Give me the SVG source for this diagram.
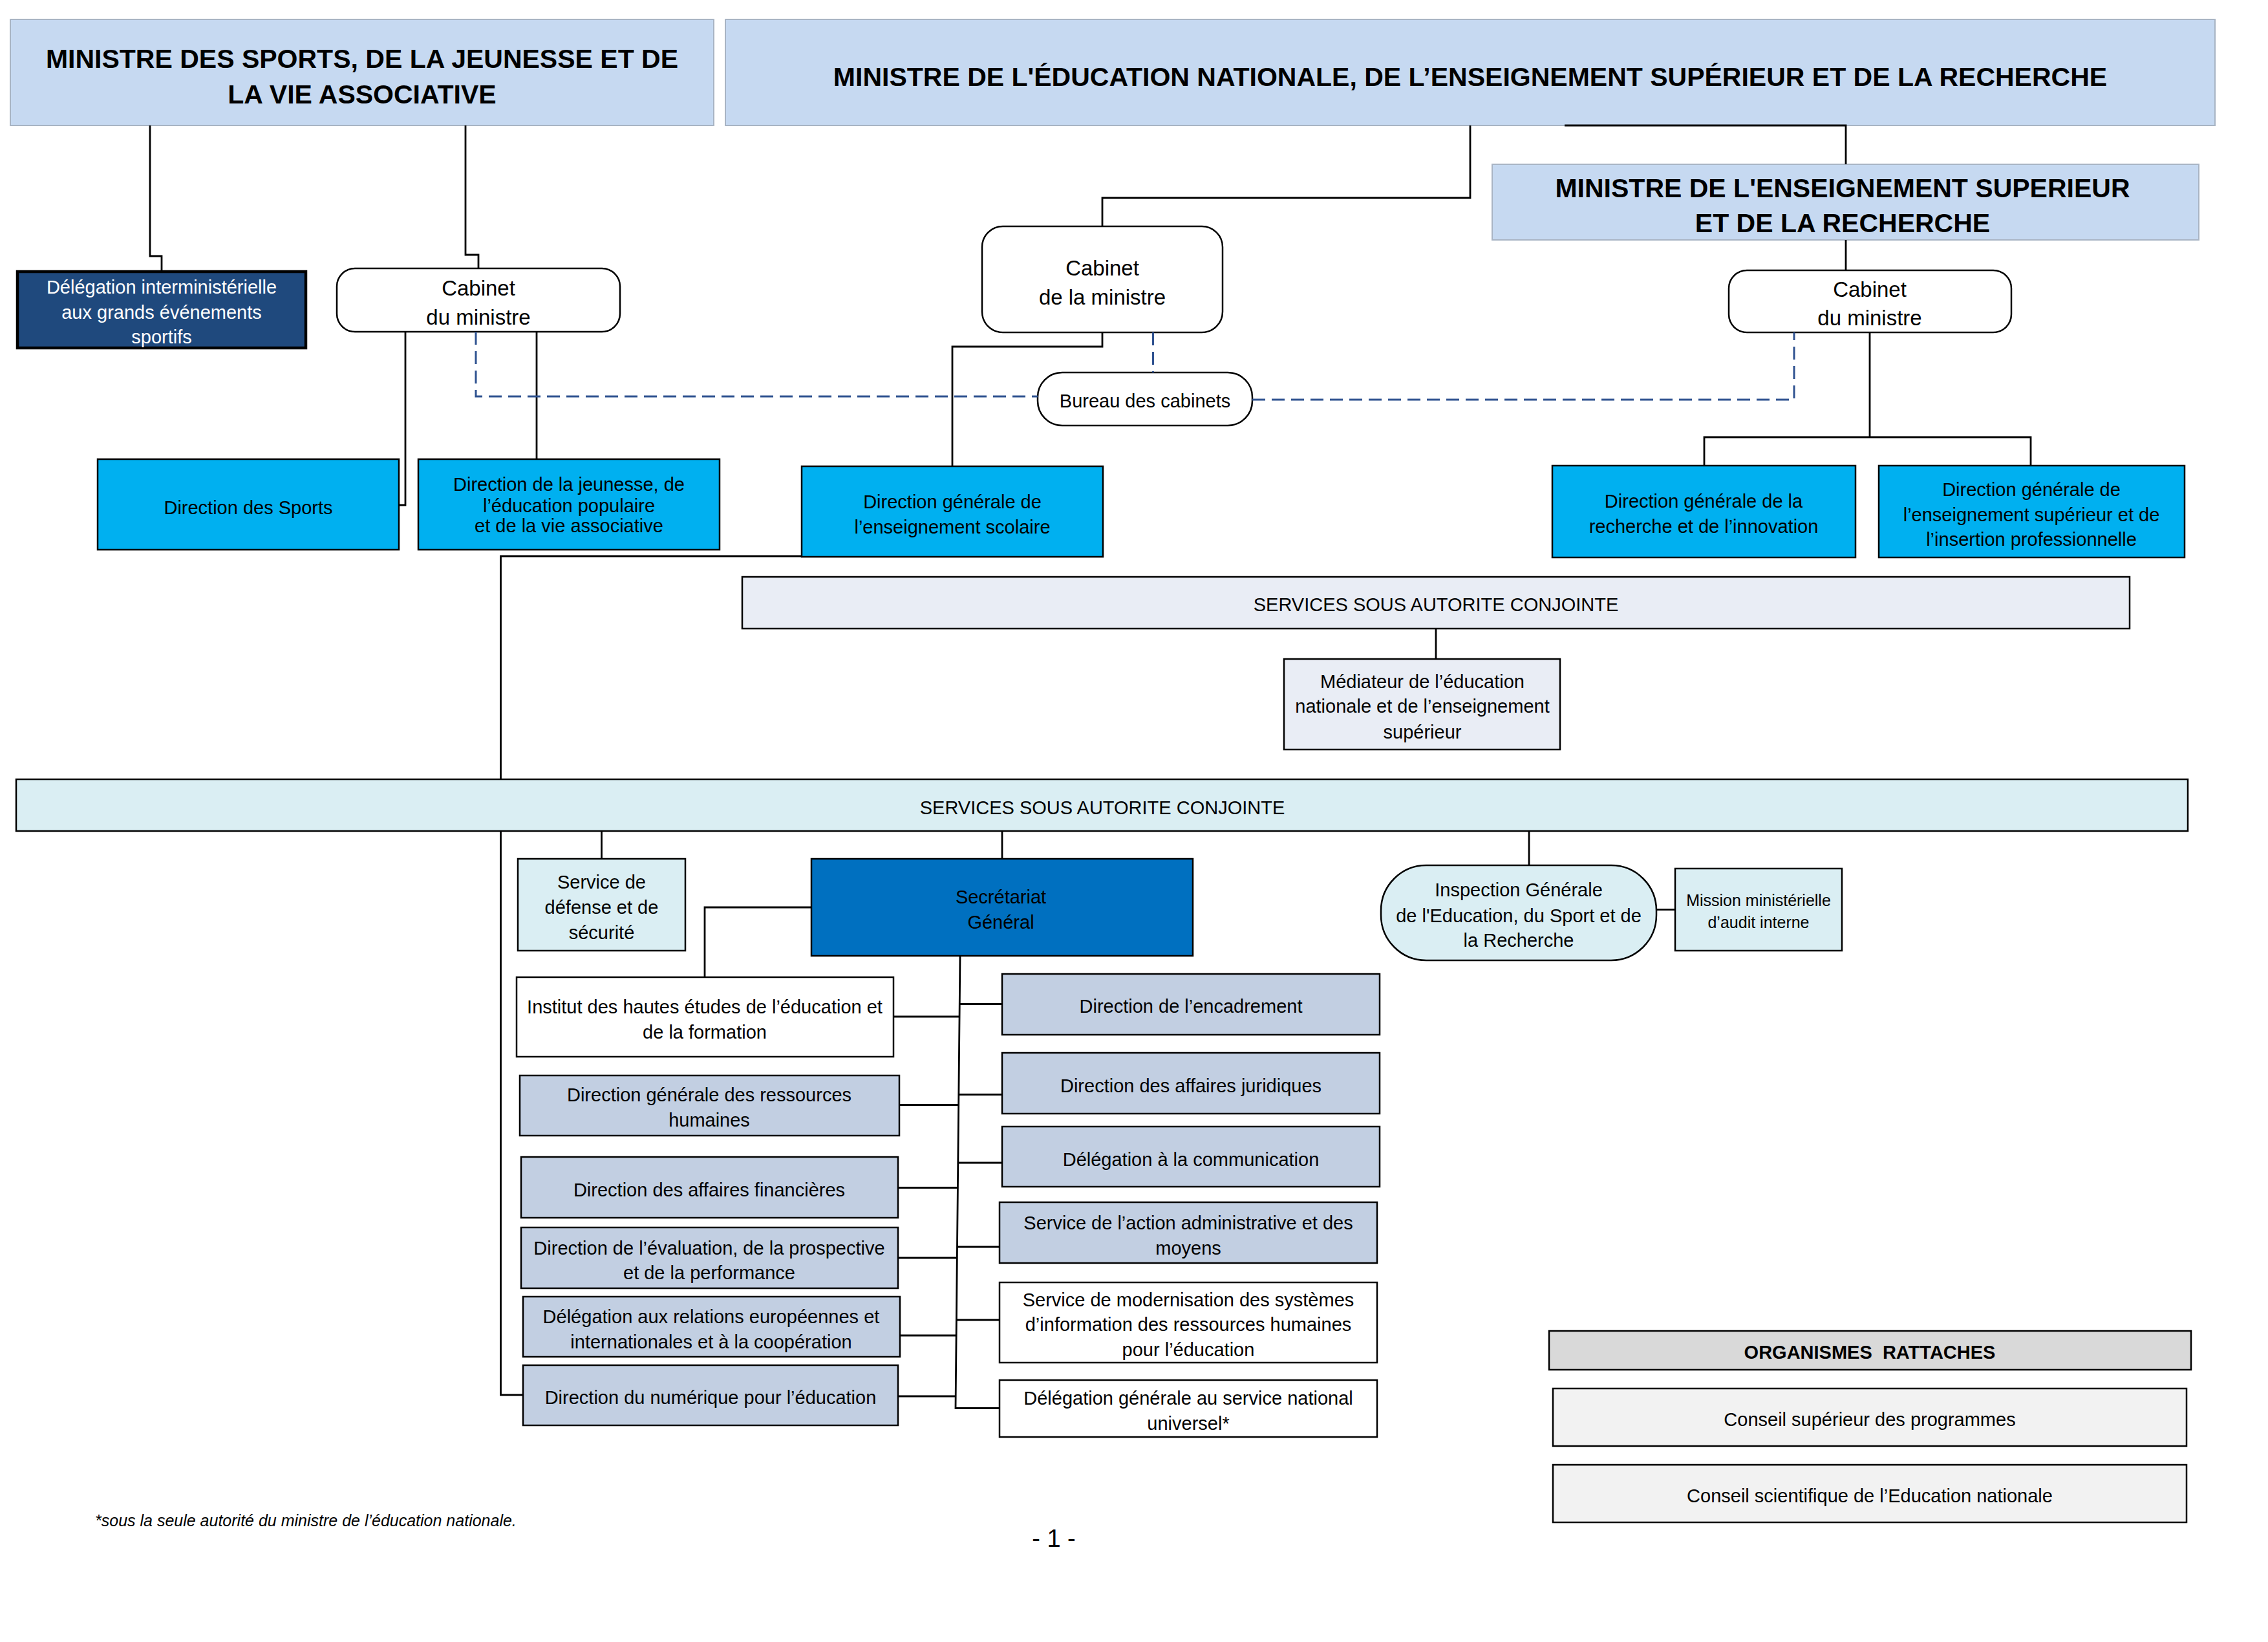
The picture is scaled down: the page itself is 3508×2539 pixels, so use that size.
<svg xmlns="http://www.w3.org/2000/svg" width="3508" height="2539" viewBox="0 0 3508 2539">
<style>
text{font-family:"Liberation Sans",Arial,sans-serif;font-size:29px;fill:#000;text-anchor:middle}
.title{font-size:41px;font-weight:bold}
.cab{font-size:33px}
.w{fill:#fff}
.b{stroke:#000;stroke-width:2.5}
.tb{fill:#C6D9F1;stroke:#A8B4C4;stroke-width:2}
.dir{fill:#00B0F0}
.gb{fill:#C2CFE2}
.lb{fill:#DAEEF3}
.lv{fill:#E9EDF5}
.wh{fill:#fff}
.ln{fill:none;stroke:#000;stroke-width:2.8}
.ds{fill:none;stroke:#2F5290;stroke-width:3;stroke-dasharray:20 10}
</style>
<rect width="3508" height="2539" fill="#fff"/>
<g id="t1"><rect class="tb" x="16" y="30" width="1088" height="164"/>
<text class="title" x="560" y="105">MINISTRE DES SPORTS, DE LA JEUNESSE ET DE</text>
<text class="title" x="560" y="160">LA VIE ASSOCIATIVE</text></g>
<g id="t2"><rect class="tb" x="1122" y="30" width="2304" height="164"/>
<text class="title" x="2274" y="133">MINISTRE DE L'ÉDUCATION NATIONALE, DE L’ENSEIGNEMENT SUPÉRIEUR ET DE LA RECHERCHE</text></g>
<g id="t3"><rect class="tb" x="2308" y="254" width="1093" height="117"/>
<text class="title" x="2850" y="305">MINISTRE DE L'ENSEIGNEMENT SUPERIEUR</text>
<text class="title" x="2850" y="359">ET DE LA RECHERCHE</text></g>
<g id="deleg"><rect x="27" y="420" width="446" height="118" fill="#1F497D" stroke="#000" stroke-width="4.5"/>
<text class="w" x="250" y="454">Délégation interministérielle</text>
<text class="w" x="250" y="493">aux grands événements</text>
<text class="w" x="250" y="531">sportifs</text></g>
<g id="cab1"><rect class="wh b" x="521" y="415" width="438" height="98" rx="28"/>
<text class="cab" x="740" y="457">Cabinet</text><text class="cab" x="740" y="502">du ministre</text></g>
<g id="cab2"><rect class="wh b" x="1519" y="350" width="372" height="164" rx="32"/>
<text class="cab" x="1705" y="426">Cabinet</text><text class="cab" x="1705" y="471">de la ministre</text></g>
<g id="bureau"><rect class="wh b" x="1605" y="576" width="332" height="82" rx="38"/>
<text x="1771" y="630">Bureau des cabinets</text></g>
<g id="cab3"><rect class="wh b" x="2674" y="418" width="437" height="96" rx="28"/>
<text class="cab" x="2892" y="459">Cabinet</text><text class="cab" x="2892" y="503">du ministre</text></g>
<g id="ds"><rect class="dir b" x="151" y="710" width="466" height="140"/>
<text x="384" y="795">Direction des Sports</text></g>
<g id="djepva"><rect class="dir b" x="647" y="710" width="466" height="140"/>
<text x="880" y="759">Direction de la jeunesse, de</text>
<text x="880" y="792">l’éducation populaire</text>
<text x="880" y="823">et de la vie associative</text></g>
<g id="dgesco"><rect class="dir b" x="1240" y="721" width="466" height="140"/>
<text x="1473" y="786">Direction générale de</text>
<text x="1473" y="825">l’enseignement scolaire</text></g>
<g id="dgri"><rect class="dir b" x="2401" y="720" width="469" height="142"/>
<text x="2635" y="785">Direction générale de la</text>
<text x="2635" y="824">recherche et de l’innovation</text></g>
<g id="dgesip"><rect class="dir b" x="2906" y="720" width="473" height="142"/>
<text x="3142" y="767">Direction générale de</text>
<text x="3142" y="806">l’enseignement supérieur et de</text>
<text x="3142" y="844">l’insertion professionnelle</text></g>
<g id="svc1"><rect class="lv b" x="1148" y="892" width="2146" height="80"/>
<text x="2221" y="945">SERVICES SOUS AUTORITE CONJOINTE</text></g>
<g id="mediateur"><rect class="lv b" x="1986" y="1019" width="427" height="140"/>
<text x="2200" y="1064">Médiateur de l’éducation</text>
<text x="2200" y="1102">nationale et de l’enseignement</text>
<text x="2200" y="1142">supérieur</text></g>
<g id="svc2"><rect class="lb b" x="25" y="1205" width="3359" height="80"/>
<text x="1705" y="1259">SERVICES SOUS AUTORITE CONJOINTE</text></g>
<g id="defense"><rect class="lb b" x="801" y="1328" width="259" height="142"/>
<text x="930.5" y="1374">Service de</text>
<text x="930.5" y="1413">défense et de</text>
<text x="930.5" y="1452">sécurité</text></g>
<g id="sg"><rect x="1255" y="1328" width="590" height="150" fill="#0070C0" stroke="#000" stroke-width="2.5"/>
<text x="1548" y="1397" fill="#0B1F33">Secrétariat</text>
<text x="1548" y="1436" fill="#0B1F33">Général</text></g>
<g id="igesr"><rect class="lb b" x="2136" y="1338" width="426" height="147" rx="70"/>
<text x="2349" y="1386">Inspection Générale</text>
<text x="2349" y="1426">de l'Education, du Sport et de</text>
<text x="2349" y="1464">la Recherche</text></g>
<g id="mission"><rect class="lb b" x="2591" y="1343" width="258" height="127"/>
<text x="2720" y="1401" style="font-size:25px">Mission ministérielle</text>
<text x="2720" y="1435" style="font-size:25px">d’audit interne</text></g>
<g id="institut"><rect class="wh b" x="799" y="1511" width="583" height="123"/>
<text x="1090" y="1567">Institut des hautes études de l’éducation et</text>
<text x="1090" y="1606">de la formation</text></g>
<g id="dgrh"><rect class="gb b" x="804" y="1663" width="587" height="93"/>
<text x="1097" y="1703">Direction générale des ressources</text>
<text x="1097" y="1742">humaines</text></g>
<g id="daf"><rect class="gb b" x="806" y="1789" width="583" height="94"/>
<text x="1097" y="1850">Direction des affaires financières</text></g>
<g id="depp"><rect class="gb b" x="806" y="1898" width="583" height="94"/>
<text x="1097" y="1940">Direction de l’évaluation, de la prospective</text>
<text x="1097" y="1978">et de la performance</text></g>
<g id="dreic"><rect class="gb b" x="809" y="2005" width="583" height="93"/>
<text x="1100" y="2046">Délégation aux relations européennes et</text>
<text x="1100" y="2085">internationales et à la coopération</text></g>
<g id="dne"><rect class="gb b" x="809" y="2111" width="580" height="93"/>
<text x="1099" y="2171">Direction du numérique pour l’éducation</text></g>
<g id="encad"><rect class="gb b" x="1550" y="1506" width="584" height="94"/>
<text x="1842" y="1566">Direction de l’encadrement</text></g>
<g id="daj"><rect class="gb b" x="1550" y="1628" width="584" height="94"/>
<text x="1842" y="1689">Direction des affaires juridiques</text></g>
<g id="delcom"><rect class="gb b" x="1550" y="1742" width="584" height="93"/>
<text x="1842" y="1803">Délégation à la communication</text></g>
<g id="saam"><rect class="gb b" x="1546" y="1859" width="584" height="94"/>
<text x="1838" y="1901">Service de l’action administrative et des</text>
<text x="1838" y="1940">moyens</text></g>
<g id="smsirh"><rect class="wh b" x="1546" y="1983" width="584" height="124"/>
<text x="1838" y="2020">Service de modernisation des systèmes</text>
<text x="1838" y="2058">d’information des ressources humaines</text>
<text x="1838" y="2097">pour l’éducation</text></g>
<g id="dgsnu"><rect class="wh b" x="1546" y="2134" width="584" height="88"/>
<text x="1838" y="2172">Délégation générale au service national</text>
<text x="1838" y="2211">universel*</text></g>
<g id="org"><rect x="2396" y="2058" width="993" height="60" fill="#D9D9D9" stroke="#000" stroke-width="2.5"/>
<text x="2892" y="2101" font-weight="bold" xml:space="preserve">ORGANISMES  RATTACHES</text></g>
<g id="csp"><rect x="2402" y="2147" width="980" height="89" fill="#F2F2F2" stroke="#000" stroke-width="2.5"/>
<text x="2892" y="2205">Conseil supérieur des programmes</text></g>
<g id="csen"><rect x="2402" y="2265" width="980" height="89" fill="#F2F2F2" stroke="#000" stroke-width="2.5"/>
<text x="2892" y="2323">Conseil scientifique de l’Education nationale</text></g>
<g id="connectors">
<path class="ln" d="M232 194V396H250V420"/>
<path class="ln" d="M720 194V394H740V415"/>
<path class="ln" d="M627 513V781H617"/>
<path class="ln" d="M830 513V710"/>
<path class="ln" d="M2274 194V306H1705V350"/>
<path class="ln" d="M1705 514V536H1473V721"/>
<path class="ln" d="M2420 194H2855V254"/>
<path class="ln" d="M2855 371V418"/>
<path class="ln" d="M2892 514V676M2636 720V676H3141V720"/>
<path class="ln" d="M1240 860H774.5V1205"/>
<path class="ln" d="M774.5 1285V2157H809"/>
<path class="ln" d="M2221 972V1019"/>
<path class="ln" d="M930.5 1285V1328"/>
<path class="ln" d="M1550 1285V1328"/>
<path class="ln" d="M2365 1285V1338"/>
<path class="ln" d="M2562 1406.5H2591"/>
<path class="ln" d="M1255 1403H1090V1511"/>
<path class="ln" d="M1485 1478L1478 2177.5H1546"/>
<path class="ln" d="M1382 1572H1484M1391 1708.5H1483M1389 1836.5H1482M1389 1945H1481M1392 2065H1480M1389 2159H1479"/>
<path class="ln" d="M1484 1552.5H1550M1483 1692.5H1550M1482 1798H1550M1481 1928H1546M1480 2041H1546"/>
<path class="ds" d="M736 513V613H1605"/>
<path class="ds" d="M1783.5 514V576"/>
<path class="ds" d="M1937 618H2775V514"/>
</g>
<g id="notes">
<text x="147" y="2360" style="font-size:25px;font-style:italic;text-anchor:start">*sous la seule autorité du ministre de l’éducation nationale.</text>
<text x="1630" y="2392" style="font-size:38px" xml:space="preserve">- 1 -</text>
</g>
</svg>
